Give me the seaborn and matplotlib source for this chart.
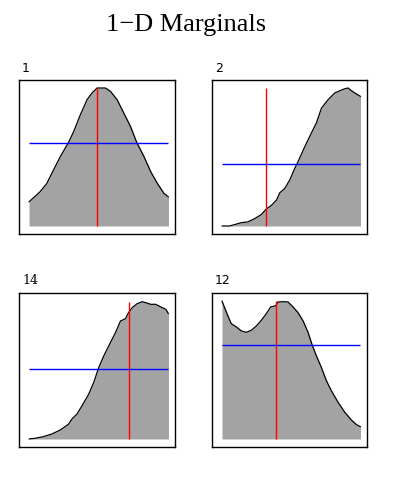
import numpy as np
import pandas as pd
import matplotlib
matplotlib.use("Agg")
import matplotlib.pyplot as plt
import seaborn as sns

sns.set_style("white")

titles = ["1", "2", "14", "12"]

x1 = [0, 0.079, 0.127, 0.175, 0.224, 0.284, 0.32, 0.368, 0.416, 0.452, 0.488, 0.548, 0.584, 0.632, 0.68, 0.728, 0.772, 0.825, 0.873, 0.921, 0.969, 1.0]
y1 = [0.175, 0.248, 0.308, 0.405, 0.502, 0.607, 0.684, 0.806, 0.915, 0.964, 1.0, 1.0, 0.976, 0.915, 0.818, 0.721, 0.607, 0.502, 0.393, 0.308, 0.235, 0.211]

x2 = [0, 0.055, 0.09, 0.14, 0.188, 0.236, 0.284, 0.318, 0.357, 0.393, 0.417, 0.453, 0.489, 0.525, 0.549, 0.598, 0.646, 0.682, 0.718, 0.766, 0.814, 0.851, 0.887, 0.911, 0.935, 0.971, 1.0]
y2 = [0, 0, 0.01, 0.024, 0.03, 0.053, 0.083, 0.121, 0.15, 0.187, 0.24, 0.272, 0.333, 0.417, 0.466, 0.575, 0.675, 0.748, 0.854, 0.915, 0.964, 0.98, 0.995, 1.0, 0.98, 0.956, 0.939]

x14 = [0, 0.043, 0.103, 0.163, 0.224, 0.284, 0.308, 0.344, 0.38, 0.428, 0.464, 0.5, 0.536, 0.584, 0.62, 0.656, 0.692, 0.709, 0.74, 0.776, 0.812, 0.837, 0.873, 0.909, 0.945, 0.981, 1.0]
y14 = [0, 0.005, 0.017, 0.036, 0.065, 0.108, 0.145, 0.181, 0.241, 0.325, 0.41, 0.518, 0.602, 0.699, 0.771, 0.855, 0.872, 0.908, 0.952, 0.981, 0.995, 0.988, 0.976, 0.976, 0.957, 0.94, 0.908]

x12 = [0, 0.019, 0.043, 0.067, 0.104, 0.14, 0.176, 0.212, 0.248, 0.284, 0.32, 0.352, 0.388, 0.405, 0.441, 0.477, 0.513, 0.549, 0.586, 0.622, 0.651, 0.682, 0.718, 0.754, 0.79, 0.839, 0.887, 0.935, 0.971, 1.0]
y12 = [1.0, 0.952, 0.892, 0.836, 0.812, 0.783, 0.773, 0.788, 0.819, 0.86, 0.908, 0.957, 0.966, 0.993, 0.995, 0.993, 0.957, 0.916, 0.855, 0.771, 0.682, 0.602, 0.518, 0.422, 0.349, 0.265, 0.193, 0.137, 0.104, 0.089]

xs = [x1, x2, x14, x12]
ys = [y1, y2, y14, y12]
vlines = [0.488, 0.318, 0.716, 0.388]
hlines = [0.60, 0.449, 0.506, 0.682]

W, H = 393, 478
fig = plt.figure(figsize=(W / 100, H / 100), dpi=100)
fig.patch.set_facecolor("white")

boxes = [(19, 80, 175, 234), (212, 80, 367, 234), (19, 293, 175, 447), (212, 293, 367, 447)]
label_fonts = ["DejaVu Sans", "DejaVu Sans", "DejaVu Serif", "DejaVu Sans"]

for i in range(4):
    l, t, r, b = boxes[i]
    ax = fig.add_axes([l / W, 1 - b / H, (r - l) / W, (b - t) / H])
    df = pd.DataFrame({"x": xs[i], "y": ys[i]})
    ax.fill_between(df["x"], 0, df["y"], color="#a3a3a3", linewidth=0)
    sns.lineplot(data=df, x="x", y="y", ax=ax, color="black", linewidth=0.9, estimator=None, sort=False)
    ymax = max(ys[i])
    ax.vlines(vlines[i], 0, ymax, color="red", linewidth=1.0)
    ax.hlines(hlines[i], 0, 1, color="blue", linewidth=1.0)
    ax.set_xlim(-0.072, 1.047)
    ax.set_ylim(-0.058, 1.058)
    ax.set_xticks([])
    ax.set_yticks([])
    ax.set_xlabel("")
    ax.set_ylabel("")
    for s in ax.spines.values():
        s.set_visible(True)
        s.set_color("black")
        s.set_linewidth(1.0)
    fig.text((l + 3) / W, 1 - (t - 12) / H, titles[i], fontsize=9,
             family=label_fonts[i], ha="left", va="center", color="black")

fig.text(186 / W, 1 - 25 / H, "1\u2212D Marginals", fontsize=19,
         family="Liberation Serif", ha="center", va="center", color="black")

fig.savefig("out.png", dpi=100, facecolor="white")
